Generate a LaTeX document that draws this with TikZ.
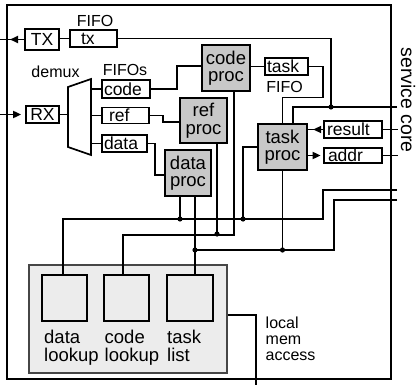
\documentclass[tikz,border=0pt]{standalone}
\usepackage{fontspec}
\setmainfont{Liberation Sans}
\usetikzlibrary{arrows.meta}
\definecolor{procgray}{RGB}{200,200,200}
\definecolor{memgray}{RGB}{236,236,236}
\definecolor{memborder}{RGB}{70,70,70}
\newcommand\bigfnt{\fontsize{18.5}{17.5}\selectfont}
\newcommand\boxfnt{\fontsize{17.5}{17.5}\selectfont}
\newcommand\svcfnt{\fontsize{19.5}{19.5}\selectfont}
\newcommand\smallfnt{\fontsize{16}{16}\selectfont}
\newcommand\lbox[2]{\makebox[#1][l]{#2}}
\begin{document}
\begin{tikzpicture}[x=1pt,y=-1pt,
  wire/.style={line width=1.7pt},
  arr/.style={line width=1.7pt,-{Triangle[length=8pt,width=7pt]}},
  fifo/.style={draw,fill=white,line width=1.7pt,inner xsep=2pt,inner ysep=0pt,font=\boxfnt},
  proc/.style={draw,fill=procgray,line width=1.7pt,inner sep=0pt,align=center,font=\bigfnt},
  lk/.style={draw,fill=memgray,line width=1.7pt,inner sep=0pt},
  lbl/.style={font=\smallfnt,inner sep=0pt},
  biglbl/.style={font=\bigfnt,inner sep=0pt}]
\useasboundingbox (0,0) rectangle (417,385);
% outer frame
\draw[line width=1.5pt] (7,5) rectangle (391,379);

% memory area
\node[draw=memborder,fill=memgray,line width=1.7pt,minimum width=198pt,minimum height=108pt,inner sep=0pt] (mem) at (128,319) {};
\node[lk,minimum width=45pt,minimum height=46pt] (dataL) at (64.5,298) {};
\node[lk,minimum width=45pt,minimum height=46pt] (codeL) at (126.5,298) {};
\node[lk,minimum width=46pt,minimum height=46pt] (taskL) at (190,298) {};
\node[biglbl,align=left,anchor=north west] (dlk) at (44,330) {data\\lookup};
\node[biglbl,align=left,anchor=north west] (clk) at (104.5,330) {code\\lookup};
\node[biglbl,align=left,anchor=north west] (tlk) at (167,330) {task\\list};

% ports and FIFOs
\node[fifo,minimum width=34pt,minimum height=21pt] (TX) at (42,39.5) {TX};
\node[fifo,minimum width=33pt,minimum height=17pt] (RX) at (42.5,114.5) {RX};
\node[fifo,minimum width=47pt,minimum height=17pt] (txF) at (93.5,38.5) {\lbox{43pt}{\hspace*{9pt}tx}};
\node[fifo,minimum width=48pt,minimum height=18pt] (codeF) at (126,89) {\lbox{44pt}{code}};
\node[fifo,minimum width=47pt,minimum height=16pt] (refF) at (125.5,115.5) {\lbox{43pt}{\hspace*{5pt}ref}};
\node[fifo,minimum width=45pt,minimum height=17pt] (dataF) at (124.5,143.5) {\lbox{41pt}{data}};
\node[fifo,minimum width=43pt,minimum height=17pt] (taskF) at (286.5,66.5) {\lbox{39pt}{task}};
\node[fifo,minimum width=58pt,minimum height=17pt] (result) at (353,129.5) {\lbox{54pt}{\hspace*{1pt}result}};
\node[fifo,minimum width=58pt,minimum height=15pt] (addr) at (353,155.5) {\lbox{54pt}{\hspace*{2pt}addr}};

% processors
\node[proc,minimum width=48pt,minimum height=46pt] (codeP) at (226,68) {code\\proc};
\node[proc,minimum width=47pt,minimum height=45pt] (refP) at (203.5,120.5) {ref\\proc};
\node[proc,minimum width=46pt,minimum height=46pt] (dataP) at (188,173) {data\\proc};
\node[proc,minimum width=49pt,minimum height=46pt] (taskP) at (282.5,147) {task\\proc};

% labels
\node[lbl,anchor=base] (fifoTx) at (95,27) {FIFO};
\node[lbl,anchor=base] (demuxL) at (55.5,78) {demux};
\node[lbl,anchor=base] (fifosL) at (125,76) {FIFOs};
\node[lbl,anchor=base] (fifoTask) at (284.5,93) {FIFO};
\node[font=\svcfnt,inner sep=0pt,rotate=-90,anchor=base] (svc) at (401,100) {service core};
\node[lbl,align=left,anchor=north west] (lma) at (265.5,316.5) {local\\mem\\access};

% demux
\coordinate (dmxL) at (68,114.5);
\coordinate (dmxR) at (91,115);
\draw[wire,line join=miter] (68,87) -- (91,79) -- (91,155) -- (68,147) -- cycle;

% coordinates
\coordinate (txout) at (0,39.5);
\coordinate (txtip) at (10,39.5);
\coordinate (rxin) at (0,114.5);
\coordinate (j107) at (331,107);
\coordinate (p107) at (397,107);
\coordinate (pA) at (397,190);
\coordinate (pB) at (397,200);
\coordinate (jA1) at (180,219);
\coordinate (jA2) at (243,219);
\coordinate (jB1) at (195,250);
\coordinate (jC) at (217,234);

% I/O arrows
\draw[wire] (TX.west) -- (txout);
\draw[arr] (TX.west) -- (txtip);
\draw[arr] (rxin) -- ([xshift=-4pt]RX.west);
\draw[wire] (TX.east |- txF.west) -- (txF.west);
\draw[wire] (RX.east) -- (dmxL);
\draw[wire] (codeF.west -| dmxR) -- (codeF.west);
\draw[wire] (refF.west -| dmxR) -- (refF.west);
\draw[wire] (dataF.west -| dmxR) -- (dataF.west);

% FIFOs to procs
\draw[wire] (codeF.east) -- ++(26,0) |- ([yshift=2pt]codeP.west);
\draw[wire] (refF.east) -- ++(13,0) |- ([yshift=-1.5pt]refP.west);
\draw[wire] (dataF.east) -- ++(7,0) |- ([yshift=-2pt]dataP.west);
\draw[wire] (taskF.west -| codeP.east) -- (taskF.west);
\draw[wire] (taskF.east) -- ++(14,0) -- ++(0,31) -| (taskP.north);

% tx line and shared bus
\draw[wire] (txF.east) -| (j107);
\draw[wire] (p107) -| ([xshift=10.5pt]taskP.north);
\fill (j107) circle (2.6pt);

% result / addr
\draw[wire] (result.west) -- (taskP.east |- result.west);
\draw[arr] (result.west) -- ++(-10,0);
\draw[wire] (result.east) -- ++(15,0);
\draw[arr] (taskP.east |- addr.west) -- ([xshift=-2.5pt]addr.west);
\draw[wire] (addr.east) -- ++(15,0);

% memory buses
\draw[wire] (pA) -| (323,219) -| ([xshift=-1.5pt]dataL.north);
\draw[wire] (taskP.west) -| (jA2);
\draw[wire] (jA1 |- dataP.south) -- (jA1);
\fill (jA1) circle (2.6pt);
\fill (jA2) circle (2.6pt);

\draw[wire] (pB) -| (334,250) -- (jB1);
\draw[wire] (jB1 |- dataP.south) -- (jB1 |- taskL.north);
\draw[wire] (taskP.south) -- (taskP.south |- jB1);
\fill (jB1) circle (2.6pt);
\fill (taskP.south |- jB1) circle (2.6pt);

\draw[wire] ([xshift=8pt]codeP.south) -- ++(0,143) -| ([xshift=-3.5pt]codeL.north);
\draw[wire] (jC |- refP.south) -- (jC);
\fill (jC) circle (2.6pt);

% local memory access
\draw[wire] ([yshift=4pt]mem.east) -- ++(28,0) -- ++(0,70);
\end{tikzpicture}
\end{document}
